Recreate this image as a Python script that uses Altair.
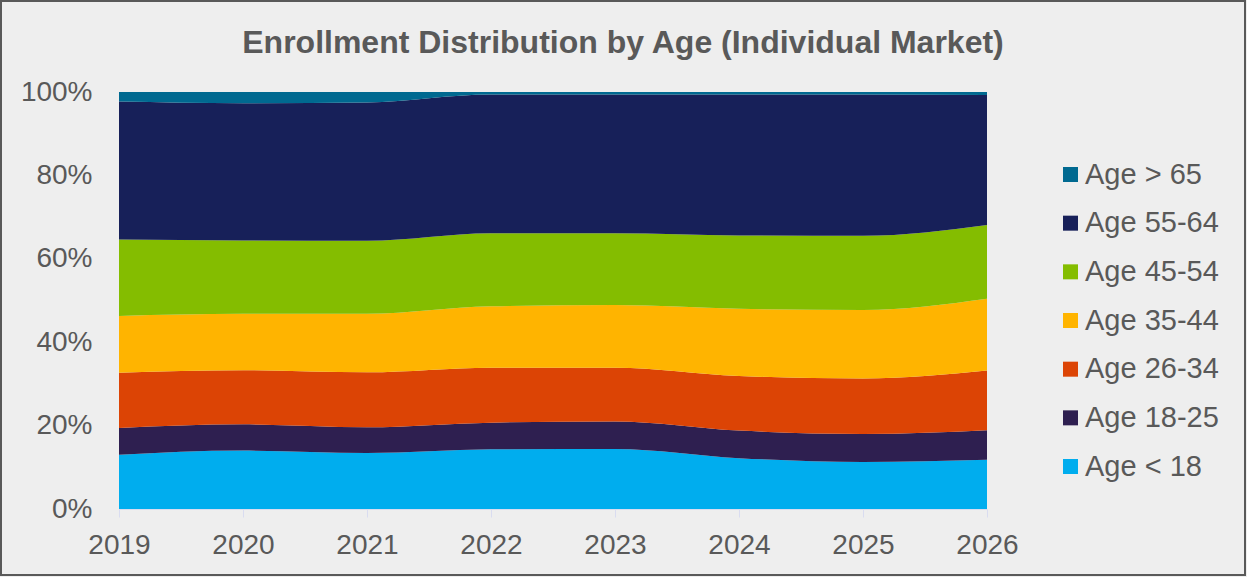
import altair as alt
import pandas as pd

years = [2019, 2020, 2021, 2022, 2023, 2024, 2025, 2026]
groups = ["Age > 65", "Age 55-64", "Age 45-54", "Age 35-44", "Age 26-34", "Age 18-25", "Age < 18"]
colors = ["#006990", "#172059", "#84BD00", "#FFB400", "#DC4405", "#2E1F50", "#00ADEE"]
title_text = "Enrollment Distribution by Age (Individual Market)"

age_lt18 = [13.0, 14.0, 13.4, 14.3, 14.4, 12.2, 11.3, 11.8]
age_18_25 = [6.4, 6.3, 6.2, 6.4, 6.6, 6.6, 6.7, 7.1]
age_26_34 = [13.3, 13.0, 13.2, 13.2, 12.9, 13.1, 13.3, 14.3]
age_35_44 = [13.6, 13.5, 14.0, 14.7, 15.0, 16.1, 16.4, 17.2]
age_45_54 = [18.3, 17.6, 17.5, 17.5, 17.2, 17.6, 17.8, 17.7]
age_55_64 = [33.1, 32.9, 33.2, 33.3, 33.3, 33.8, 33.9, 31.2]
age_gt65 = [2.3, 2.7, 2.5, 0.6, 0.6, 0.6, 0.6, 0.7]

series = {
    "Age < 18": age_lt18,
    "Age 18-25": age_18_25,
    "Age 26-34": age_26_34,
    "Age 35-44": age_35_44,
    "Age 45-54": age_45_54,
    "Age 55-64": age_55_64,
    "Age > 65": age_gt65,
}

rows = []
for k, (name, vals) in enumerate(series.items()):
    for y, v in zip(years, vals):
        rows.append({"year": y, "group": name, "share": v, "ord": k})
df = pd.DataFrame(rows)

W, H = 868, 417
PAD_L, PAD_T = 119, 92
PAD_R = 1247 - PAD_L - W
PAD_B = 577 - PAD_T - H
GREY = "#595959"
FONT = "Liberation Sans"

area = alt.Chart(df).mark_area(interpolate="monotone").encode(
    x=alt.X("year:Q", scale=alt.Scale(domain=[2019, 2026], nice=False, zero=False),
            axis=alt.Axis(values=years, format="d", title=None, grid=False,
                          tickSize=8, tickColor="#D9DCF0", domainColor="#D9DCF0",
                          labelFontSize=28, labelColor=GREY, labelFont=FONT,
                          labelPadding=14, labelFlush=False)),
    y=alt.Y("share:Q", stack="normalize",
            scale=alt.Scale(domain=[0, 1]),
            axis=alt.Axis(values=[0, 0.2, 0.4, 0.6, 0.8, 1.0], format=".0%", title=None,
                          grid=False, ticks=False, domainColor="#D9DCF0",
                          labelFontSize=28, labelColor=GREY, labelFont=FONT,
                          labelPadding=27)),
    color=alt.Color("group:N", scale=alt.Scale(domain=groups, range=colors),
                    sort=groups,
                    legend=alt.Legend(title=None, orient="none", legendX=W + 69, legendY=68,
                                      symbolType="square", symbolSize=225, symbolStrokeWidth=0,
                                      labelFontSize=29, labelColor=GREY, labelFont=FONT,
                                      labelOffset=0, rowPadding=18.67, labelLimit=300)),
    order=alt.Order("ord:Q", sort="ascending"),
)

single = alt.Data(values=[{"a": 1}])

frame = alt.Chart(single).mark_rect(
    fill=None, stroke=GREY, strokeWidth=2, clip=False
).encode(
    x=alt.value(-PAD_L + 1),
    x2=alt.value(W + PAD_R - 2),
    y=alt.value(-PAD_T + 1),
    y2=alt.value(H + PAD_B - 2),
)

title = alt.Chart(single).mark_text(
    font=FONT, fontSize=32, fontWeight="bold", color=GREY,
    align="center", baseline="alphabetic", clip=False
).encode(
    x=alt.value(623 - PAD_L),
    y=alt.value(53 - PAD_T),
    text=alt.value(title_text),
)

chart = alt.layer(area, frame, title).properties(
    width=W, height=H,
    autosize=alt.AutoSizeParams(type="none"),
    padding={"left": PAD_L, "top": PAD_T, "right": PAD_R, "bottom": PAD_B},
    background="#EEEEEE",
).configure_view(stroke=None)

chart.save("out.html", embed_options={"renderer": "svg", "actions": False})
